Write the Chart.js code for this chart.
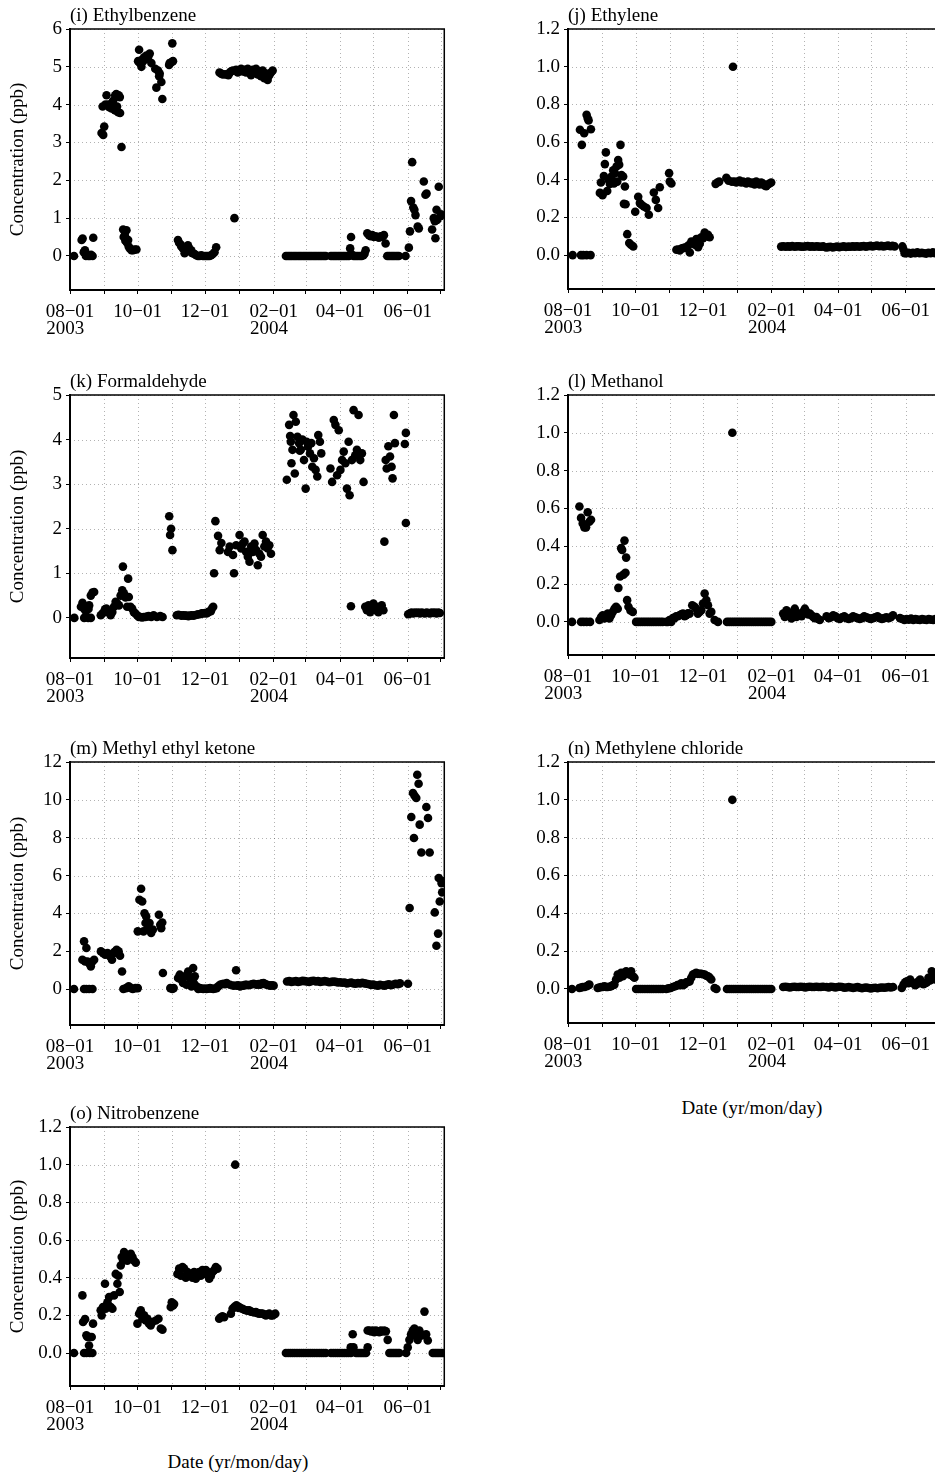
<!DOCTYPE html>
<html>
<head>
<meta charset="utf-8">
<script src="https://cdn.jsdelivr.net/npm/chart.js@4.4.0/dist/chart.umd.min.js"></script>
<style>
  html, body { margin: 0; padding: 0; background: #fff; }
  body { width: 935px; height: 1476px; position: relative; overflow: hidden; font-family: "Liberation Serif", serif; }
  canvas { position: absolute; }
  .xlab { position: absolute; font-size: 19px; white-space: nowrap; transform: translateX(-50%); color: #000; }
</style>
</head>
<body>
<canvas id="pI"></canvas>
<canvas id="pJ"></canvas>
<canvas id="pK"></canvas>
<canvas id="pL"></canvas>
<canvas id="pM"></canvas>
<canvas id="pN"></canvas>
<canvas id="pO"></canvas>
<div class="xlab" style="left:752px;top:1097px">Date (yr/mon/day)</div>
<div class="xlab" style="left:238px;top:1451px">Date (yr/mon/day)</div>
<script>
// x = days since 2003-08-01, y = concentration (ppb)
const monthDays = [0, 31, 61, 92, 122, 153, 184, 213, 244, 274, 305, 335];
const monthLabels = [['08−01', '2003\u00a0\u00a0'], '', '10−01', '', '12−01', '', ['02−01', '2004\u00a0\u00a0'], '', '04−01', '', '06−01', ''];
const ticks6 = [0, 1, 2, 3, 4, 5, 6];
const ticks5 = [0, 1, 2, 3, 4, 5];
const ticks12 = [0, 2, 4, 6, 8, 10, 12];
const ticksFrac = [0, 0.2, 0.4, 0.6, 0.8, 1.0, 1.2];

const ethylbenzene = [
  [3.6,0],[10.5,0.42],[11.4,0.46],[12.4,0.1],[13.5,0.15],[14.4,0],[16.5,0],[18,0],[19,0.03],[20.4,0],[21,0.48],
  [28.5,3.25],[29.5,3.95],[30,3.2],[30.9,3.42],[32,4.0],[33,4.25],[34.5,4.0],[35.5,3.93],[37.5,3.9],[38,4.05],[39,4.1],[40.5,3.85],[40.8,4.25],[41.8,4.28],[42.5,3.95],[43.5,3.8],[44,4.25],[45,4.2],[45.2,3.78],
  [46.5,2.88],[48,0.7],[48.5,0.5],[49.5,0.55],[50,0.4],[51,0.68],[51.5,0.35],[52.5,0.42],[53,0.25],[54,0.2],[55.5,0.15],[57,0.15],[58.5,0.17],[60,0.17],
  [61.5,5.15],[62.4,5.45],[63,5.1],[64.5,5.0],[65.5,5.2],[66,5.15],[67,5.25],[68,5.2],[69,5.3],[70.5,5.25],[72,5.35],[73.5,5.1],
  [77,4.95],[78,4.45],[79.5,4.9],[80.5,4.75],[81,4.82],[82.5,4.6],[83.4,4.15],
  [89.5,5.05],[90,5.1],[91.5,5.12],[92.4,5.62],[93,5.15],
  [97.5,0.42],[98.5,0.35],[100,0.3],[100.5,0.25],[102,0.2],[103.5,0.07],[104.2,0.12],[105,0.2],[106.5,0.28],[107.5,0.2],[109.5,0.15],[110,0.08],[111,0.07],[112.5,0.05],[114,0.02],[115.5,0],[117,0],[118.5,0.02],[120,0],[121.5,0],[123,0],[124.5,0],[126,0],[127.5,0.02],[129,0.05],[130.5,0.1],[132,0.23],
  [135,4.85],[136.5,4.82],[138,4.8],[140.5,4.8],[143,4.78],[144,4.84],[145.5,4.88],[147,4.9],[148.5,1.0],[150,4.92],[151.5,4.85],[153,4.9],[154.5,4.95],[156,4.88],[157.5,4.92],[159,4.85],[160.5,4.95],[162,4.9],[163.5,4.78],[165,4.92],[166.5,4.85],[168,4.95],[169.5,4.8],[171,4.88],[172.5,4.75],[174,4.9],[175.5,4.7],[177,4.82],[178.5,4.65],[180,4.78],[181.5,4.85],[183,4.9],
  [195,0],[196.5,0],[198,0],[199.5,0],[201,0],[202.5,0],[204,0],[205.5,0],[207,0],[208.5,0],[210,0],[211.5,0],[213,0],[214.5,0],[216,0],[217.5,0],[219,0],[220.5,0],[222,0],[223.5,0],[225,0],[226.5,0],[228,0],[229.5,0],[231,0],
  [235.5,0],[237,0],[238.5,0],[240,0],[241.5,0],[243,0],[244.5,0],[246,0],[247.5,0],[249,0],[250.5,0],[252,0],[253,0.2],[253.8,0.5],[254.5,0.04],[256,0],[257.5,0],[259,0],[260.5,0],[262,0],[263.5,0],[265,0.02],[266,0.06],[267,0.15],
  [268.5,0.6],[270,0.55],[271.5,0.52],[273,0.55],[274.5,0.5],[276,0.52],[277.5,0.5],[279,0.48],[280.5,0.52],[282,0.5],[283.5,0.55],[285,0.33],
  [286.5,0],[288,0],[289.5,0],[291,0],[292.5,0],[294,0],[295.5,0],[297,0],
  [303,0],[306,0.22],[307,0.65],[308,1.45],[309,2.48],[310,1.28],[311,1.22],[312,1.08],[314,0.78],[315,0.73],[319.5,1.97],[321,1.62],[322,1.65],[327,0.7],[328.5,1.0],[329.5,0.92],[330,0.47],[331,1.22],[331.5,0.95],[333,1.83],[334.5,1.05],[335,1.1]
];

const ethylene = [
  [4.2,0],[10.8,0.665],[11.7,0],[12.5,0.585],[13.8,0],[14.6,0.647],[16.8,0],[16.8,0.745],[17.7,0.727],[18.6,0.715],[20.4,0],[20.7,0.668],
  [28.8,0.33],[29.7,0.385],[31.2,0.318],[32.4,0.42],[33.3,0.483],[34.2,0.545],[35.4,0.34],[36.5,0.4],[37.8,0.378],[39.3,0.417],[40.8,0.45],[41.5,0.38],[42.3,0.435],[43.8,0.47],[44.5,0.39],[45.3,0.505],[46.2,0.48],[47.4,0.585],[48.3,0.425],[49.8,0.417],[50.5,0.272],[51.4,0.364],[52,0.27],[53.5,0.111],[55.3,0.064],[56.8,0.055],[58.9,0.046],
  [60.7,0.23],[63.4,0.31],[64.9,0.276],[66.4,0.267],[68.5,0.258],[70.9,0.25],[73,0.214],[77.5,0.332],[79.3,0.293],[81.4,0.25],[82.9,0.36],[91.3,0.435],[91.9,0.39],[93.4,0.38],
  [97.9,0.028],[99.5,0.03],[100.9,0.025],[102.5,0.035],[103.9,0.037],[105.5,0.04],[106.9,0.04],[108.4,0.05],[110,0.014],[111.4,0.072],[112.9,0.064],[114.5,0.055],[115.9,0.085],[117.5,0.042],[119,0.06],[120.4,0.095],[122,0.09],[123.4,0.12],[124.9,0.1],[126.4,0.108],[127.9,0.095],
  [133.3,0.378],[135,0.385],[136.5,0.39],[143,0.41],[145,0.395],[148,0.39],[149,1.0],[150.5,0.39],[152,0.385],[153.5,0.39],[155,0.395],[156.5,0.385],[158,0.39],[159.5,0.385],[161,0.38],[162.5,0.39],[164,0.385],[165.5,0.38],[167,0.385],[168.5,0.375],[170,0.39],[171.5,0.38],[173,0.375],[174.5,0.385],[176,0.38],[177.5,0.37],[179,0.365],[180.5,0.375],[182,0.38],[183.5,0.385],
  [192.5,0.045],[194.5,0.047],[196.5,0.044],[198.5,0.046],[200.5,0.045],[202.5,0.048],[204.5,0.044],[206.5,0.046],[208.5,0.047],[210.5,0.045],[212.5,0.044],[214.5,0.046],[216.5,0.048],[218.5,0.045],[220.5,0.046],[222.5,0.044],[224.5,0.047],[226.5,0.045],[228.5,0.044],[230.5,0.046],
  [233,0.04],[235,0.042],[237,0.044],[239,0.041],[241,0.043],[243,0.045],[245,0.042],[247,0.044],[249,0.046],[251,0.043],[253,0.045],[255,0.044],[257,0.046],[259,0.045],[261,0.047],[263,0.044],[265,0.046],[267,0.048],[269,0.045],[271,0.047],[273,0.049],[275,0.046],[277,0.048],[279,0.05],[281,0.047],[283,0.049],[285,0.046],[287,0.048],[289,0.05],[291,0.047],[293,0.049],[295,0.046],
  [302,0.046],[303,0.03],[304,0.01],[305.5,0.01],[307.5,0.012],[309.5,0.008],[311.5,0.012],[313.5,0.01],[315.5,0.015],[317.5,0.01],[319.5,0.012],[321.5,0.01],[323.5,0.008],[325.5,0.012],[327.5,0.01],[329.5,0.015],[331.5,0.01],[333.5,0.012],[335.5,0.01]
];

const formaldehyde = [
  [3.9,0],[9.9,0.25],[11.3,0.34],[12.8,0],[12.8,0.2],[14.3,0.15],[14.9,0.25],[16.4,0],[16.7,0.2],[17.3,0.28],[18.8,0],[18.8,0.5],[20.3,0.57],[21.8,0.58],
  [27.8,0.06],[29.3,0.1],[31.6,0.19],[32.8,0.21],[34.6,0.13],[36.7,0.06],[38.2,0.13],[39.7,0.25],[41.2,0.36],[42.7,0.32],[44.2,0.28],[45.7,0.5],[47.2,0.62],[47.8,1.15],[48.7,0.55],[50.1,0.46],[51.6,0.25],[52.5,0.88],[53.1,0.47],[54.6,0.25],[56.1,0.21],[57.6,0.13],[59.1,0.1],[60.6,0.06],[62.1,0.02],[63.6,0.02],[65.1,0.01],[66.6,0.02],[68.1,0.02],[69.6,0.03],[71,0.04],[73.4,0.02],[75.5,0.06],[78.5,0.02],[81.5,0.04],[83.6,0.02],
  [89.6,2.28],[90.4,1.86],[91.3,2.0],[92.5,1.52],
  [96.4,0.06],[97.9,0.07],[99.4,0.06],[100.9,0.05],[102.4,0.06],[103.9,0.05],[105.4,0.05],[106.9,0.04],[108.4,0.05],[109.9,0.06],[111.3,0.05],[112.8,0.06],[114.3,0.07],[115.8,0.08],[117.3,0.08],[118.8,0.1],[120.3,0.1],[121.8,0.11],[123.3,0.1],[124.8,0.12],[125.4,0.14],[127.2,0.15],[128.4,0.22],[129.3,0.25],
  [130.1,1.0],[131.3,2.17],[133.7,1.84],[135.2,1.52],[136.7,1.68],
  [142.7,1.48],[144.2,1.6],[147.2,1.41],[148.1,1.0],[150.1,1.63],[153.1,1.86],[154.6,1.56],[156.1,1.67],[157.6,1.71],[159.1,1.48],[160.6,1.37],[162.1,1.26],[163.6,1.6],[165.1,1.48],[166.6,1.67],[168.1,1.52],[169.6,1.18],[171,1.44],[172.5,1.37],[174,1.86],[175.5,1.6],[177,1.71],[178.5,1.56],[180,1.63],[181.5,1.44],
  [195.8,3.1],[197.9,4.33],[198.8,4.08],[199.4,3.95],[200,3.47],[200.9,3.77],[201.8,4.55],[203,3.24],[203.9,4.4],[205.4,4.06],[206.9,3.92],[207.6,3.75],[208.4,3.77],[209.9,4.0],[211.3,3.54],[212.8,2.9],[213.7,3.95],[214.9,3.84],[216.7,3.69],[217.9,3.92],[218.8,3.39],[220.3,3.58],[221.8,3.32],[223.3,3.17],[224.2,4.1],[225.7,3.95],[226.9,3.69],
  [235.2,3.35],[236.7,3.05],[238.2,4.44],[239.7,4.33],[241.2,3.2],[242.7,4.21],[244.2,3.32],[245.7,3.54],[247.2,3.73],[248.7,3.47],[250.1,2.9],[251.6,3.95],[252.5,2.75],[253.7,0.26],[254.6,3.54],[256.1,4.66],[257.6,3.65],[259.1,3.77],[260.6,4.55],[262.1,3.54],[263.6,3.69],[265.1,3.05],
  [266.6,0.25],[268.1,0.17],[269.6,0.28],[271,0.13],[272.5,0.21],[274,0.32],[275.5,0.17],[277,0.25],[278.5,0.13],[280,0.21],[281.5,0.28],[283,0.17],[283.9,1.71],[285.1,3.54],[286,3.35],[287.5,3.85],[289,3.62],[290.4,3.39],[291.3,3.13],[292.5,4.55],[293.4,3.92],
  [302.4,3.9],[303.3,2.13],[303.3,4.15],[305.4,0.08],[306.9,0.1],[308.4,0.12],[310,0.1],[311.5,0.12],[313,0.11],[314.5,0.12],[316,0.1],[317.5,0.12],[319,0.11],[320.5,0.1],[322,0.12],[323.5,0.11],[325,0.1],[326.5,0.12],[328,0.11],[329.5,0.12],[331,0.1],[332.5,0.12],[334,0.11]
];

const methanol = [
  [3.6,0],[10.3,0.61],[11.8,0],[11.8,0.55],[13.3,0.52],[14.2,0],[14.8,0.5],[16.3,0.5],[16.9,0],[17.8,0.58],[19.3,0.53],[19.9,0],[20.8,0.54],
  [28.4,0.01],[29.9,0.026],[31.4,0.035],[32.9,0.018],[34.4,0.026],[35.9,0.044],[37.4,0.018],[38.9,0.035],[40.4,0.053],[41.9,0.07],[43.4,0.08],[44.9,0.07],[45.5,0.18],[47.1,0.24],[48,0.39],[48.9,0.38],[50.1,0.25],[51,0.43],[51.9,0.26],[52.5,0.34],[53.4,0.115],[54.6,0.08],[56.4,0.06],[58.5,0.053],
  [61.5,0],[63.5,0],[65.5,0],[67.5,0],[69.5,0],[71.5,0],[73.5,0],[75.5,0],[77.5,0],[79.5,0],[81.5,0],[83.5,0],[85.5,0],
  [88.7,0],[90.2,0],[91.7,0.01],[93.2,0],[94.7,0.02],[96.2,0.02],[97.7,0.03],[99.2,0.03],[100.8,0.035],[102.3,0.04],[103.8,0.044],[105.3,0.03],[106.8,0.035],[108.3,0.045],[109.8,0.044],[112.2,0.088],[114.3,0.08],[115.8,0.07],[117.3,0.044],[118.9,0.053],[120.4,0.062],[121.9,0.097],[123.4,0.15],[124.9,0.115],[126.4,0.088],[127.9,0.044],[129.4,0.053],
  [132.4,0.01],[135.4,0],
  [143.6,0],[145.6,0],[147.6,0],[148.4,1.0],[149.6,0],[151.6,0],[153.6,0],[155.6,0],[157.6,0],[159.6,0],[161.6,0],[163.6,0],[165.6,0],[167.6,0],[169.6,0],[171.6,0],[173.6,0],[175.6,0],[177.6,0],[179.6,0],[181.6,0],[183.6,0],
  [194.3,0.044],[195.8,0.026],[197.3,0.062],[198.8,0.035],[200.3,0.044],[201.8,0.018],[203.3,0.053],[204.8,0.07],[206.3,0.026],[207.8,0.035],[209.4,0.044],[210.9,0.03],[212.4,0.053],[213.9,0.07],[215.4,0.053],[216.9,0.04],[218.4,0.044],[219.9,0.035],[221.4,0.026],[222.9,0.02],[224.4,0.026],[225.9,0.015],[227.4,0.01],
  [233.5,0.03],[235.5,0.02],[237.5,0.025],[239.5,0.035],[241.5,0.03],[243.5,0.02],[245.5,0.015],[247.5,0.025],[249.5,0.03],[251.5,0.02],[253.5,0.015],[255.5,0.02],[257.5,0.03],[259.5,0.025],[261.5,0.02],[263.5,0.015],[265.5,0.02],[267.5,0.03],[269.5,0.025],[271.5,0.02],[273.5,0.015],[275.5,0.02],[277.5,0.025],[279.5,0.03],[281.5,0.02],[283.5,0.015],[285.5,0.02],[287.5,0.025],[289.5,0.02],[291.5,0.025],[293.5,0.035],
  [299.8,0.02],[301.8,0.015],[303.8,0.01],[305.8,0.015],[307.8,0.012],[309.8,0.018],[311.8,0.01],[313.8,0.015],[315.8,0.012],[317.8,0.01],[319.8,0.015],[321.8,0.012],[323.8,0.01],[325.8,0.015],[327.8,0.012],[329.8,0.01],[331.8,0.015]
];

const methylEthylKetone = [
  [3.6,0],[11.2,1.55],[12.7,2.52],[12.7,0],[13.6,1.46],[14.8,2.17],[14.8,0],[15.8,1.46],[17.3,1.37],[17.3,0],[18.8,1.2],[20.3,1.46],[20.3,0],[21.8,1.55],
  [27.9,1.99],[30,1.9],[31.8,1.81],[33.9,1.9],[36.1,1.73],[37.9,1.55],[39.1,1.9],[40.9,1.99],[42.1,2.08],[43.9,1.99],[45.2,1.76],[47,0.93],
  [48.2,0],[50.6,0.05],[53,0.14],[55.2,0.05],[56.7,0],[59.1,0.05],[61.2,0.05],
  [61.2,3.05],[62.7,4.72],[64.2,5.3],[65.2,4.63],[66.4,3.05],[67.3,4.0],[68.2,3.49],[68.8,3.84],[70.3,3.22],[71.8,3.49],[73.3,2.96],[74.8,3.14],[80.3,3.93],[81.5,3.4],[82.4,3.22],[83.3,3.52],
  [83.9,0.85],[90.6,0.05],[92.4,0],[93.6,0.05],
  [97.6,0.58],[99.1,0.76],[100.6,0.49],[102.1,0.32],[103.6,0.67],[105.2,0.23],[106.7,0.93],[108.2,0.58],[109.7,0.14],[111.2,1.11],[111.8,0.32],[112.7,0.67],[114.2,0.14],[115.8,0],[117.3,0.05],[118.8,0.02],[120.3,0],[121.8,0.03],[123.3,0],[124.8,0.02],[126.4,0.05],[127.9,0.02],[129.4,0],[130.9,0.03],[132.4,0.05],[133.9,0.14],[135.5,0.23],[137,0.25],[138.5,0.28],[140,0.26],[141.5,0.32],
  [144.5,0.23],[147.6,0.18],[150,0.99],[150.6,0.18],[152.1,0.2],[153.6,0.14],[155.2,0.18],[156.7,0.18],[158.2,0.22],[159.7,0.23],[161.2,0.2],[162.7,0.23],[164.3,0.25],[165.8,0.28],[167.3,0.25],[168.8,0.23],[170.3,0.26],[171.8,0.23],[173.3,0.3],[174.8,0.32],[176.4,0.26],[177.9,0.23],[179.4,0.2],[180.9,0.18],[182.4,0.2],[183.9,0.18],
  [196,0.4],[198,0.42],[200,0.38],[202,0.4],[204,0.42],[206,0.38],[208,0.4],[210,0.43],[212,0.42],[214,0.4],[216,0.38],[218,0.42],[220,0.44],[222,0.4],[224,0.42],[226,0.38],[228,0.4],[230,0.42],[232,0.4],[234,0.36],[236,0.38],[238,0.4],
  [240,0.38],[242,0.35],[244,0.36],[246,0.33],[248,0.35],[250,0.3],[252,0.32],[254,0.34],[256,0.3],[258,0.28],[260,0.32],[262,0.3],[264,0.33],[266,0.3],[268,0.28],
  [270,0.25],[272,0.22],[274,0.24],[276,0.2],[278,0.18],[280,0.22],[282,0.2],[284,0.18],[286,0.22],[288,0.25],[290,0.2],[292,0.24],[294,0.28],[296,0.26],[298,0.3],
  [305.2,0.28],[306.7,4.28],[308.2,9.09],[309.7,10.36],[310.6,7.98],[311.2,10.22],[312.7,10.1],[313.6,11.33],[314.8,10.85],[315.8,8.69],[317.3,7.22],[321.8,9.62],[323.3,9.04],[324.8,7.22],
  [329.4,4.05],[330.9,2.29],[332.4,2.93],[333,5.87],[333.9,4.63],[335.5,5.6],[336.1,5.11],[337.3,5.69]
];

const methyleneChloride = [
  [3.6,0],[10.3,0.005],[12,0.008],[13.3,0.01],[15,0.01],[16.9,0.014],[18.5,0.02],[19.3,0.023],
  [26.8,0.005],[28.4,0.008],[29.9,0.01],[31.4,0.01],[32.9,0.014],[34.4,0.01],[35.9,0.01],[37.4,0.012],[38.9,0.014],[40.4,0.02],[41.9,0.023],[43.4,0.05],[44.9,0.076],[46.5,0.059],[48,0.085],[49.5,0.067],[51,0.076],[52.5,0.094],[54,0.085],[55.5,0.076],[57,0.094],[58.5,0.067],[60,0.059],
  [61.5,0],[63.5,0],[65.5,0],[67.5,0],[69.5,0],[71.5,0],[73.5,0],[75.5,0],[77.5,0],[79.5,0],[81.5,0],[83.5,0],[85.5,0],
  [88.7,0],[90.7,0.003],[92.7,0.005],[94.7,0.01],[96.7,0.014],[98.7,0.02],[100.8,0.02],[102.3,0.03],[103.8,0.02],[105.3,0.025],[106.8,0.035],[108.3,0.037],[109.8,0.04],[111.3,0.059],[112.8,0.076],[114.3,0.08],[115.8,0.085],[117.3,0.08],[118.9,0.08],[120.4,0.08],[121.9,0.078],[123.4,0.076],[124.9,0.07],[126.4,0.067],[127.9,0.06],[129.4,0.05],[132.4,0.005],[134,0],
  [143.6,0],[145.6,0],[147.6,0],[148.4,1.0],[149.6,0],[151.6,0],[153.6,0],[155.6,0],[157.6,0],[159.6,0],[161.6,0],[163.6,0],[165.6,0],[167.6,0],[169.6,0],[171.6,0],[173.6,0],[175.6,0],[177.6,0],[179.6,0],[181.6,0],[183.6,0],
  [194.3,0.01],[196.3,0.012],[198.3,0.01],[200.3,0.008],[202.3,0.01],[204.3,0.012],[206.3,0.01],[208.3,0.01],[210.3,0.012],[212.3,0.01],[214.3,0.008],[216.3,0.01],[218.3,0.012],[220.3,0.01],[222.3,0.01],[224.3,0.012],[226.3,0.01],[228.3,0.01],[230.3,0.012],
  [233.5,0.01],[235.5,0.008],[237.5,0.012],[239.5,0.01],[241.5,0.008],[243.5,0.01],[245.5,0.012],[247.5,0.01],[249.5,0.006],[251.5,0.008],[253.5,0.01],[255.5,0.008],[257.5,0.005],[259.5,0.008],[261.5,0.01],[263.5,0.006],[265.5,0.004],[267.5,0.006],[269.5,0.008],[271.5,0.005],[273.5,0.003],[275.5,0.005],[277.5,0.006],[279.5,0.004],[281.5,0.006],[283.5,0.008],[285.5,0.006],[287.5,0.008],[289.5,0.01],[291.5,0.008],[293.5,0.01],
  [301.4,0.005],[303,0.023],[304.5,0.035],[306,0.04],[307.5,0.03],[309,0.05],[310.5,0.035],[312,0.03],[313.5,0.02],[315,0.025],[316.5,0.04],[318,0.05],[319.5,0.03],[321,0.025],[322.5,0.03],[324,0.035],[325.5,0.059],[327,0.045],[328.5,0.094],[330,0.06],[331.5,0.05],[333,0.07],[335,0.08]
];

const nitrobenzene = [
  [3.6,0],[11.2,0.306],[11.8,0.165],[12.7,0],[13.6,0.18],[14.8,0.094],[14.8,0],[15.7,0.085],[17.2,0.04],[17.8,0.085],[17.8,0],[19.6,0.085],[20.2,0],[20.8,0.156],
  [27.7,0.227],[28.6,0.2],[29.8,0.244],[31.6,0.368],[32.2,0.235],[33.8,0.27],[35.3,0.297],[36.8,0.244],[38.3,0.235],[39.8,0.306],[41.3,0.42],[42.8,0.368],[43.7,0.41],[44.9,0.324],[45.8,0.465],[46.7,0.51],[47.9,0.49],[48.8,0.536],[50.3,0.52],[51.8,0.49],[53.3,0.51],[54.9,0.527],[56.4,0.51],[57.9,0.49],[59.4,0.48],
  [60.9,0.156],[62.4,0.209],[63.9,0.227],[65.4,0.182],[66.9,0.2],[68.4,0.173],[69.9,0.182],[71.4,0.156],[72.9,0.147],[74.4,0.165],[77.5,0.173],[79.9,0.182],[82,0.13],[83.5,0.124],
  [91,0.244],[91.9,0.27],[93.1,0.253],[94,0.26],
  [97,0.42],[98.6,0.448],[100.1,0.41],[101.6,0.457],[103.1,0.448],[104.6,0.4],[106.1,0.43],[107.6,0.41],[109.1,0.42],[110.6,0.4],[112.1,0.43],[113.6,0.395],[115.1,0.42],[116.6,0.43],[118.1,0.41],[119.6,0.44],[121.2,0.42],[122.7,0.44],[124.2,0.43],[125.7,0.395],[127.2,0.41],[128.7,0.43],[130.2,0.44],[131.7,0.457],[133.2,0.448],
  [134.7,0.182],[136.2,0.19],[137.7,0.195],[139.2,0.19],
  [145.3,0.209],[146.8,0.235],[148.3,0.244],[149.2,1.0],[150.3,0.253],[151.8,0.24],[152.8,0.244],[154.3,0.238],[155.8,0.235],[157.3,0.23],[158.8,0.227],[160.3,0.225],[161.8,0.227],[163.3,0.22],[164.9,0.218],[166.4,0.215],[167.9,0.218],[169.4,0.212],[170.9,0.209],[172.4,0.21],[173.9,0.209],[175.4,0.205],[176.9,0.2],[178.4,0.205],[179.9,0.209],[181.4,0.2],[182.9,0.2],[184.4,0.205],[185.4,0.209],
  [195,0],[197,0],[199,0],[201,0],[203,0],[205,0],[207,0],[209,0],[211,0],[213,0],[215,0],[217,0],[219,0],[221,0],[223,0],[225,0],[227,0],[229,0],[231,0],
  [235.7,0],[237.7,0],[239.7,0],[241.7,0],[243.7,0],[245.7,0],[247.7,0],[249.7,0],[251.7,0],[253.5,0.03],[253.7,0],[255.3,0.1],[256,0.03],
  [258.3,0],[259.8,0],[261.3,0],[262.8,0],[264.3,0],[265.8,0],[267.3,0],
  [268.8,0.03],[268.8,0.12],[270.3,0.12],[271.8,0.115],[273.3,0.12],[274.8,0.11],[276.3,0.12],[277.8,0.115],[279.3,0.11],[280.8,0.12],[282.3,0.115],[283.8,0.12],[285.3,0.115],[286.9,0.07],
  [288.4,0],[289.9,0],[291.4,0],[292.9,0],[294.4,0],[295.9,0],[297.4,0],
  [303.5,0],[305,0.03],[306.5,0.07],[308,0.1],[309.5,0.12],[311,0.13],[312.5,0.09],[314,0.07],[315.5,0.12],[317,0.1],[318.5,0.094],[320.1,0.22],[321.6,0.1],[323.1,0.067],
  [327.6,0],[329.1,0],[330.6,0],[332.1,0],[333.6,0],[335.1,0],[336.6,0]
];

const SERIF = '"Liberation Serif", "Times New Roman", serif';

const panels = [
  { id: 'pI', label: '(i) Ethylbenzene', points: ethylbenzene, yMin: -0.9, yMax: 6, yTicks: ticks6, digits: 0, col: 0, top: 29, bottom: 290 },
  { id: 'pJ', label: '(j) Ethylene', points: ethylene, yMin: -0.18, yMax: 1.2, yTicks: ticksFrac, digits: 1, col: 1, top: 29, bottom: 289 },
  { id: 'pK', label: '(k) Formaldehyde', points: formaldehyde, yMin: -0.9, yMax: 5, yTicks: ticks5, digits: 0, col: 0, top: 395, bottom: 658 },
  { id: 'pL', label: '(l) Methanol', points: methanol, yMin: -0.175, yMax: 1.2, yTicks: ticksFrac, digits: 1, col: 1, top: 395, bottom: 655 },
  { id: 'pM', label: '(m) Methyl ethyl ketone', points: methylEthylKetone, yMin: -1.9, yMax: 12, yTicks: ticks12, digits: 0, col: 0, top: 762, bottom: 1025 },
  { id: 'pN', label: '(n) Methylene chloride', points: methyleneChloride, yMin: -0.18, yMax: 1.2, yTicks: ticksFrac, digits: 1, col: 1, top: 762, bottom: 1023 },
  { id: 'pO', label: '(o) Nitrobenzene', points: nitrobenzene, yMin: -0.175, yMax: 1.2, yTicks: ticksFrac, digits: 1, col: 0, top: 1127, bottom: 1386 }
];

// faint dotted grid, top/right frame and the panel caption
const framePlugin = {
  id: 'frame',
  beforeDatasetsDraw(chart) {
    const { ctx, chartArea: a, scales: { x, y } } = chart;
    ctx.save();
    ctx.strokeStyle = 'rgba(0,0,0,0.3)';
    ctx.lineWidth = 1;
    ctx.setLineDash([1, 3]);
    ctx.beginPath();
    monthDays.slice(1).forEach(d => {
      const px = Math.round(x.getPixelForValue(d)) + 0.5;
      ctx.moveTo(px, a.top);
      ctx.lineTo(px, a.bottom);
    });
    y.ticks.forEach(t => {
      const py = Math.round(y.getPixelForValue(t.value)) + 0.5;
      ctx.moveTo(a.left, py);
      ctx.lineTo(a.right, py);
    });
    ctx.stroke();
    ctx.restore();
  },
  afterDraw(chart, args, opts) {
    const { ctx, chartArea: a } = chart;
    ctx.save();
    ctx.strokeStyle = '#000';
    ctx.lineWidth = 1.5;
    ctx.beginPath();
    ctx.moveTo(a.left, a.top);
    ctx.lineTo(a.right, a.top);
    ctx.lineTo(a.right, a.bottom);
    ctx.stroke();
    ctx.fillStyle = '#000';
    ctx.font = '19px ' + SERIF;
    ctx.textAlign = 'left';
    ctx.textBaseline = 'alphabetic';
    ctx.fillText(opts.label, a.left, a.top - 8);
    ctx.restore();
  }
};

panels.forEach(p => {
  const cv = document.getElementById(p.id);
  cv.width = 450;
  cv.height = p.bottom - p.top + 80;
  cv.style.left = (p.col === 0 ? 0 : 498) + 'px';
  cv.style.top = (p.top - 30) + 'px';

  new Chart(cv, {
    type: 'scatter',
    data: {
      datasets: [{
        data: p.points.map(([x, y]) => ({ x: x, y: y })),
        backgroundColor: '#000',
        borderWidth: 0,
        pointRadius: 4.3
      }]
    },
    options: {
      responsive: false,
      animation: false,
      events: [],
      layout: { padding: { top: 30, right: 4, left: 0, bottom: 0 } },
      plugins: {
        legend: { display: false },
        tooltip: { enabled: false },
        frame: { label: p.label }
      },
      scales: {
        x: {
          type: 'linear', min: 0, max: 338,
          afterBuildTicks: s => { s.ticks = monthDays.map(v => ({ value: v })); },
          afterFit: s => { s.height = 50; },
          ticks: {
            autoSkip: false, maxRotation: 0, padding: 9, color: '#000',
            font: { family: SERIF, size: 19, lineHeight: 0.92 },
            callback: (v, i) => monthLabels[i]
          },
          grid: { drawOnChartArea: false, tickLength: 4, color: '#000' },
          border: { color: '#000', width: 2 }
        },
        y: {
          min: p.yMin, max: p.yMax,
          afterBuildTicks: s => { s.ticks = p.yTicks.map(v => ({ value: v })); },
          afterFit: s => { s.width = 70; },
          ticks: {
            padding: 4, color: '#000',
            font: { family: SERIF, size: 19 },
            callback: v => v.toFixed(p.digits)
          },
          grid: { drawOnChartArea: false, tickLength: 4, color: '#000' },
          border: { color: '#000', width: 2 },
          title: {
            display: p.col === 0, text: 'Concentration (ppb)', color: '#000',
            font: { family: SERIF, size: 19 }, padding: { top: 7, bottom: 0 }
          }
        }
      }
    },
    plugins: [framePlugin]
  });
});
</script>
</body>
</html>
